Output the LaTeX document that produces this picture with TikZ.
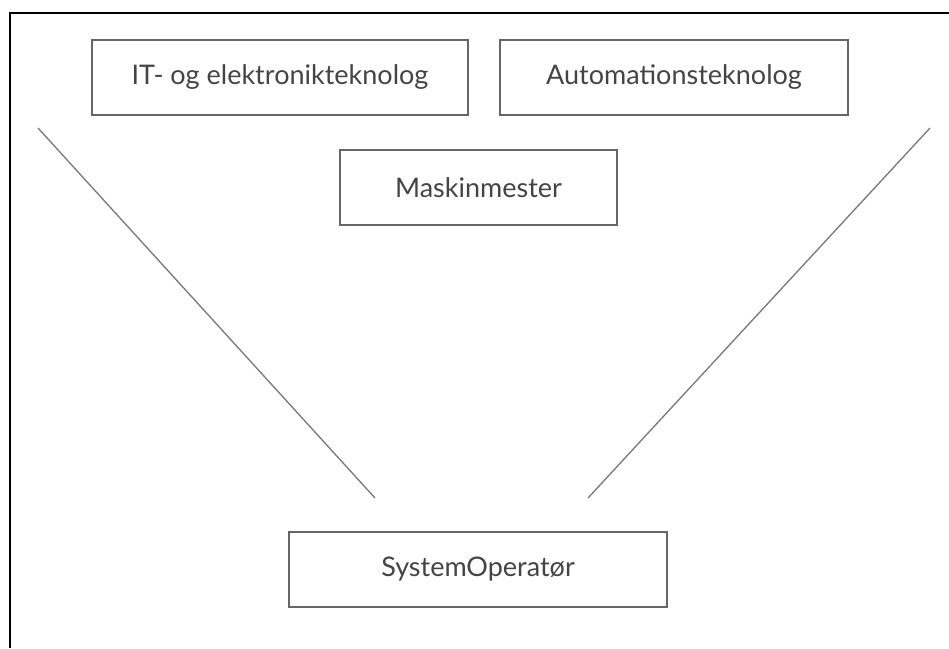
\documentclass[tikz,border=0pt]{standalone}
\usepackage{fontspec}
\setmainfont{Lato}
\begin{document}
\begin{tikzpicture}[x=1pt,y=-1pt,
  box/.style={draw=boxgray, line width=1.5pt, inner sep=0pt, minimum height=75pt, text=txtgray, font=\fontsize{27}{32}\selectfont},
  conn/.style={draw=linegray, line width=1.3pt}]
\definecolor{boxgray}{HTML}{666666}
\definecolor{linegray}{HTML}{777777}
\definecolor{txtgray}{HTML}{444444}
\useasboundingbox (0,0) rectangle (949,648);
% outer frame (top and left only)
\coordinate (fa) at (10,648);
\coordinate (fb) at (10,13);
\coordinate (fc) at (949,13);
\draw[line width=2pt, black] (fa) -- (fb) -- (fc);
% boxes
\node[box, minimum width=376pt] (it) at (280,77.5) {IT- og elektronikteknolog};
\node[box, minimum width=348pt] (auto) at (674,77.5) {Automationsteknolog};
\node[box, minimum width=277pt] (mm) at (478.5,187.5) {Maskinmester};
\node[box, minimum width=378pt] (so) at (478,569.5) {SystemOperatør};
% lines
\coordinate (l1) at (38,128);
\coordinate (l2) at (375,498);
\coordinate (r1) at (930,128);
\coordinate (r2) at (588,498);
\draw[conn] (l1) -- (l2);
\draw[conn] (r1) -- (r2);
\end{tikzpicture}
\end{document}
